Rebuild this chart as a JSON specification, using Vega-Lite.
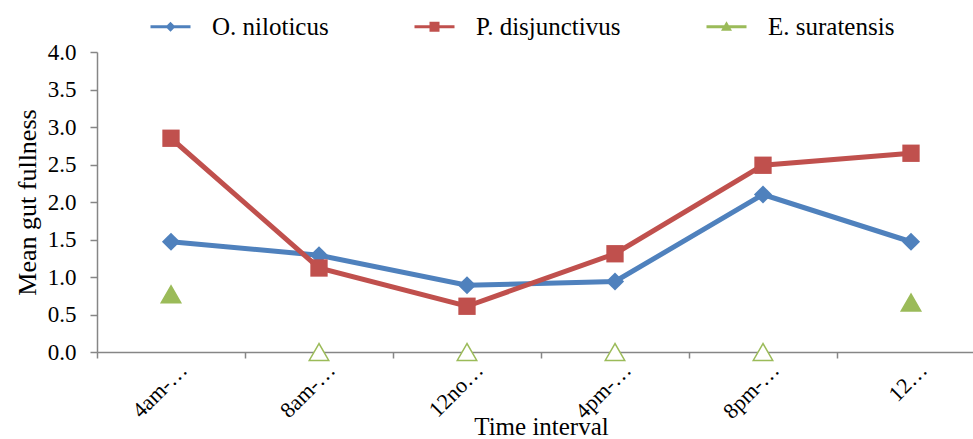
{
  "$schema": "https://vega.github.io/schema/vega-lite/v6.json",
  "width": 888,
  "height": 300,
  "autosize": {"type": "none"},
  "padding": {"left": 97, "top": 52, "right": 0, "bottom": 87},
  "background": "white",
  "config": {
    "view": {"stroke": null},
    "font": "Liberation Serif",
    "axis": {
      "grid": false,
      "domainColor": "#868686",
      "domainWidth": 1.5,
      "tickColor": "#868686",
      "tickWidth": 1.5,
      "labelColor": "black",
      "labelFont": "Liberation Serif",
      "titleFont": "Liberation Serif",
      "titleFontWeight": "normal",
      "titleColor": "black"
    }
  },
  "data": {
    "values": [
      {"time": "4am-…", "series": "O. niloticus", "value": 1.47},
      {"time": "8am-…", "series": "O. niloticus", "value": 1.29},
      {"time": "12no…", "series": "O. niloticus", "value": 0.89},
      {"time": "4pm-…", "series": "O. niloticus", "value": 0.94},
      {"time": "8pm-…", "series": "O. niloticus", "value": 2.1},
      {"time": "12…", "series": "O. niloticus", "value": 1.47},
      {"time": "4am-…", "series": "P. disjunctivus", "value": 2.85},
      {"time": "8am-…", "series": "P. disjunctivus", "value": 1.12},
      {"time": "12no…", "series": "P. disjunctivus", "value": 0.61},
      {"time": "4pm-…", "series": "P. disjunctivus", "value": 1.31},
      {"time": "8pm-…", "series": "P. disjunctivus", "value": 2.49},
      {"time": "12…", "series": "P. disjunctivus", "value": 2.65},
      {"time": "4am-…", "series": "E. suratensis", "value": 0.77},
      {"time": "8am-…", "series": "E. suratensis", "value": 0},
      {"time": "12no…", "series": "E. suratensis", "value": 0},
      {"time": "4pm-…", "series": "E. suratensis", "value": 0},
      {"time": "8pm-…", "series": "E. suratensis", "value": 0},
      {"time": "12…", "series": "E. suratensis", "value": 0.66}
    ]
  },
  "encoding": {
    "x": {
      "field": "time",
      "type": "ordinal",
      "scale": {"type": "band", "domain": ["4am-…", "8am-…", "12no…", "4pm-…", "8pm-…", "12…"], "paddingInner": 0, "paddingOuter": 0},
      "axis": {"title": "Time interval", "labelAngle": -45, "labelFontSize": 22, "titleFontSize": 25, "tickBand": "extent", "tickSize": 6, "labelPadding": 1, "labelOffset": 5, "titleY": 82, "titleBaseline": "alphabetic"}
    },
    "y": {
      "field": "value",
      "type": "quantitative",
      "scale": {"domain": [0, 4], "nice": false},
      "axis": {"title": "Mean gut fullness", "values": [0, 0.5, 1, 1.5, 2, 2.5, 3, 3.5, 4], "format": ".1f", "labelFontSize": 23, "titleFontSize": 26, "tickSize": 7, "labelPadding": 14, "titlePadding": 7}
    }
  },
  "layer": [
    {
      "transform": [{"filter": "datum.series == 'O. niloticus'"}],
      "mark": {"type": "line", "color": "#4F81BD", "strokeWidth": 5},
      "encoding": {}
    },
    {
      "transform": [{"filter": "datum.series == 'P. disjunctivus'"}],
      "mark": {"type": "line", "color": "#C0504D", "strokeWidth": 5},
      "encoding": {}
    },
    {
      "transform": [{"filter": "datum.series == 'O. niloticus'"}],
      "mark": {"type": "point", "shape": "diamond", "filled": true, "color": "#4F81BD", "size": 330, "opacity": 1}
    },
    {
      "transform": [{"filter": "datum.series == 'P. disjunctivus'"}],
      "mark": {"type": "point", "shape": "square", "filled": true, "color": "#C0504D", "size": 300, "opacity": 1}
    },
    {
      "transform": [{"filter": "datum.series == 'E. suratensis'"}],
      "mark": {"type": "point", "shape": "triangle-up", "stroke": "#9BBB59", "strokeWidth": 1.5, "size": 380, "opacity": 1},
      "encoding": {
        "fill": {"condition": {"test": "datum.value == 0", "value": "white"}, "value": "#9BBB59"}
      }
    },
    {
      "mark": {"type": "point", "filled": true, "size": 196, "opacity": 0},
      "encoding": {
        "color": {
          "field": "series",
          "type": "nominal",
          "scale": {"domain": ["O. niloticus", "P. disjunctivus", "E. suratensis"], "range": ["#4F81BD", "#C0504D", "#9BBB59"]},
          "legend": {
            "title": null,
            "orient": "none",
            "direction": "horizontal",
            "legendX": 46,
            "legendY": -38,
            "labelFont": "Liberation Serif",
            "labelFontSize": 25,
            "labelColor": "black",
            "labelOffset": 44,
            "columnPadding": 78,
            "symbolOpacity": 1,
            "labelLimit": 300
          }
        },
        "shape": {
          "field": "series",
          "type": "nominal",
          "scale": {
            "domain": ["O. niloticus", "P. disjunctivus", "E. suratensis"],
            "range": [
              "M-1,-0.3L7,-0.3L7,0.3L-1,0.3Z M3,-1L4,0L3,1L2,0Z",
              "M-1,-0.3L7,-0.3L7,0.3L-1,0.3Z M2,-1L4,-1L4,1L2,1Z",
              "M-1,-0.3L7,-0.3L7,0.3L-1,0.3Z M3,-1.1L4.1,0.8L1.9,0.8Z"
            ]
          },
          "legend": {
            "title": null,
            "orient": "none",
            "direction": "horizontal",
            "legendX": 46,
            "legendY": -38,
            "labelFont": "Liberation Serif",
            "labelFontSize": 25,
            "labelColor": "black",
            "labelOffset": 44,
            "columnPadding": 78,
            "symbolOpacity": 1,
            "labelLimit": 300
          }
        }
      }
    }
  ]
}
